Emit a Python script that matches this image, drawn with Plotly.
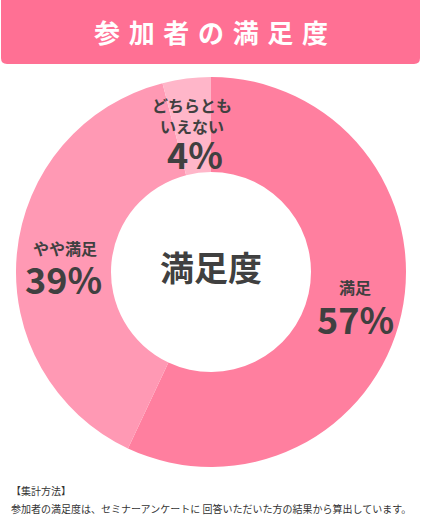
import plotly.graph_objects as go

W, H = 421, 526

title = "参加者の満足度"
center_label = "満足度"
labels = ["満足", "やや満足", "どちらとも<br>いえない"]
values = [57, 39, 4]
colors = ["#ff7f9f", "#ff99b4", "#ffb6c9"]
note_lines = ["【集計方法】",
              "参加者の満足度は、セミナーアンケートに 回答いただいた方の結果から算出しています。"]

JP = "Noto Sans CJK JP"
DARK = "#404040"


def px(x, y):
    # pixel position -> paper coords (margins are zero)
    return x / W, 1 - y / H


# donut geometry in pixels
cx, cy, r_out, r_in = 211, 272, 195, 100

fig = go.Figure(go.Pie(
    labels=labels, values=values, sort=False, direction="clockwise", rotation=0,
    hole=r_in / r_out, textinfo="none", hoverinfo="label+percent",
    marker=dict(colors=colors, line=dict(width=0)),
    domain=dict(x=[(cx - r_out) / W, (cx + r_out) / W],
                y=[1 - (cy + r_out) / H, 1 - (cy - r_out) / H]),
    showlegend=False,
))

# header bar with rounded corners
x0, x1, y0, y1, rr = 1, 420, -6, 64, 6
def P(x, y):
    a, b = px(x, y)
    return f"{a:.5f},{b:.5f}"
path = (f"M {P(x0 + rr, y0)} L {P(x1 - rr, y0)} Q {P(x1, y0)} {P(x1, y0 + rr)} "
        f"L {P(x1, y1 - rr)} Q {P(x1, y1)} {P(x1 - rr, y1)} L {P(x0 + rr, y1)} "
        f"Q {P(x0, y1)} {P(x0, y1 - rr)} L {P(x0, y0 + rr)} Q {P(x0, y0)} {P(x0 + rr, y0)} Z")
fig.add_shape(type="path", xref="paper", yref="paper", path=path,
              fillcolor="#ff7094", line=dict(width=0), layer="below")


def note(x, y, text, size, color="#404040", weight="bold", xanchor="center"):
    a, b = px(x, y)
    return dict(x=a, y=b, text=text, showarrow=False, xanchor=xanchor, yanchor="middle",
                font=dict(family=JP, size=size, color=color, weight=weight))


ann = [note(211, 31, "\u2004".join(title), 26, "white"),
       note(211, 266, center_label, 34, DARK)]

# slice labels: (name x, name y, pct x, pct y)
label_pos = [(355, 287, 355, 318), (65, 248, 63, 278), (192, 115, 195, 153)]
for lab, v, (lx, ly, vx, vy) in zip(labels, values, label_pos):
    ann.append(note(lx, ly, lab, 16, DARK))
    ann.append(note(vx, vy, f"{v}%", 36, DARK))

for i, line in enumerate(note_lines):
    ann.append(note(9, 490 + i * 18, line, 10, "#333333", "normal", "left"))

fig.update_layout(width=W, height=H, margin=dict(l=0, r=0, t=0, b=0),
                  paper_bgcolor="white", plot_bgcolor="white", annotations=ann)

# drop the browser's default page margin so the figure sits at the window corner
fig.write_html("out.html", config={"displayModeBar": False},
               post_script="document.body.style.margin='0';")
